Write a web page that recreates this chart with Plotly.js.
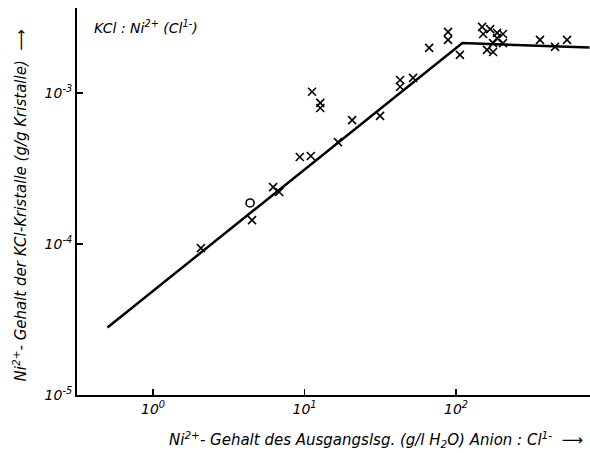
<!DOCTYPE html>
<html>
<head>
<meta charset="utf-8">
<script src="https://cdn.plot.ly/plotly-3.0.1.min.js"></script>
<style>html,body{margin:0;padding:0;background:#fff;}#chart{width:590px;height:453px;}</style>
</head>
<body>
<div id="chart"></div>
<script>
// Measured points (crosses): Ni2+ content of solution (g/l) vs Ni2+ content of crystals (g/g)
const crossX = [2.07, 4.5, 6.2, 6.8, 9.3, 11.0, 11.2, 12.7, 12.7, 16.6, 20.6, 31.5, 42.7, 42.7, 52, 66.4, 88.5, 88.5, 106,
                148.5, 168, 151, 186.5, 204, 186.5, 204, 175.5, 160, 175.5, 358, 450, 540];
const crossY = [9.4e-5, 1.44e-4, 2.38e-4, 2.21e-4, 3.77e-4, 3.83e-4, 1.02e-3, 8.6e-4, 7.96e-4, 4.73e-4, 6.62e-4, 7.05e-4, 1.22e-3, 1.10e-3, 1.26e-3, 1.99e-3, 2.54e-3, 2.25e-3, 1.79e-3,
                2.74e-3, 2.65e-3, 2.46e-3, 2.50e-3, 2.46e-3, 2.31e-3, 2.14e-3, 2.14e-3, 1.93e-3, 1.87e-3, 2.25e-3, 2.02e-3, 2.25e-3];
// Open circle point
const circleX = [4.37];
const circleY = [1.87e-4];
// Fitted line (rising branch, then plateau)
const lineX = [0.5, 110, 760];
const lineY = [2.8e-5, 2.14e-3, 2.0e-3];
// Tick labels
const xTickVals = [1, 10, 100];
const xTickText = ['10<sup>0</sup>', '10<sup>1</sup>', '10<sup>2</sup>'];
const yTickVals = [1e-5, 1e-4, 1e-3];
const yTickText = ['10<sup>-5</sup>', '10<sup>-4</sup>', '10<sup>-3</sup>'];

const FONT = 'DejaVu Sans, sans-serif';

const traces = [
  {x: lineX, y: lineY, mode: 'lines', type: 'scatter', line: {color: '#000', width: 2.5}, hoverinfo: 'skip'},
  {x: crossX, y: crossY, mode: 'markers', type: 'scatter',
   marker: {symbol: 'x-thin-open', size: 8, color: '#000', line: {color: '#000', width: 1.6}}},
  {x: circleX, y: circleY, mode: 'markers', type: 'scatter',
   marker: {symbol: 'circle-open', size: 8, color: '#000', line: {color: '#000', width: 1.6}}}
];

const layout = {
  width: 590, height: 453,
  margin: {l: 77, r: 0, t: 8, b: 58},
  paper_bgcolor: '#fff', plot_bgcolor: '#fff',
  showlegend: false,
  font: {family: FONT, size: 13, color: '#000', style: 'italic'},
  xaxis: {
    type: 'log', range: [-0.502, 2.884],
    tickvals: xTickVals, ticktext: xTickText,
    ticks: 'inside', ticklen: 6, tickwidth: 1.5, tickcolor: '#000',
    showline: true, linewidth: 2, linecolor: '#000', mirror: false,
    showgrid: false, zeroline: false,
    tickfont: {family: FONT, size: 14, style: 'italic'}
  },
  yaxis: {
    type: 'log', range: [-5, -2.437],
    tickvals: yTickVals, ticktext: yTickText,
    ticks: 'inside', ticklen: 6, tickwidth: 1.5, tickcolor: '#000',
    showline: true, linewidth: 2, linecolor: '#000', mirror: false,
    showgrid: false, zeroline: false,
    tickfont: {family: FONT, size: 14, style: 'italic'}
  },
  annotations: [
    {text: 'KCl : Ni<sup>2+</sup> (Cl<sup>1-</sup>)', xref: 'paper', yref: 'paper',
     x: 0.029, y: 0.951, xanchor: 'left', yanchor: 'middle', showarrow: false,
     font: {family: FONT, size: 14, style: 'italic'}},
    {text: 'Ni<sup>2+</sup>- Gehalt des Ausgangslsg. (g/l H<sub>2</sub>O) Anion : Cl<sup>1-</sup>  ⟶',
     xref: 'paper', yref: 'paper', x: 0.99, y: -0.115, xanchor: 'right', yanchor: 'middle', showarrow: false,
     font: {family: FONT, size: 15, style: 'italic'}},
    {text: 'Ni<sup>2+</sup>- Gehalt der KCl-Kristalle (g/g Kristalle)  ⟶',
     xref: 'paper', yref: 'paper', x: -0.111, y: 0.49, xanchor: 'center', yanchor: 'middle', textangle: -90, showarrow: false,
     font: {family: FONT, size: 15, style: 'italic'}}
  ]
};

Plotly.newPlot('chart', traces, layout, {displayModeBar: false, staticPlot: true});
</script>
</body>
</html>
